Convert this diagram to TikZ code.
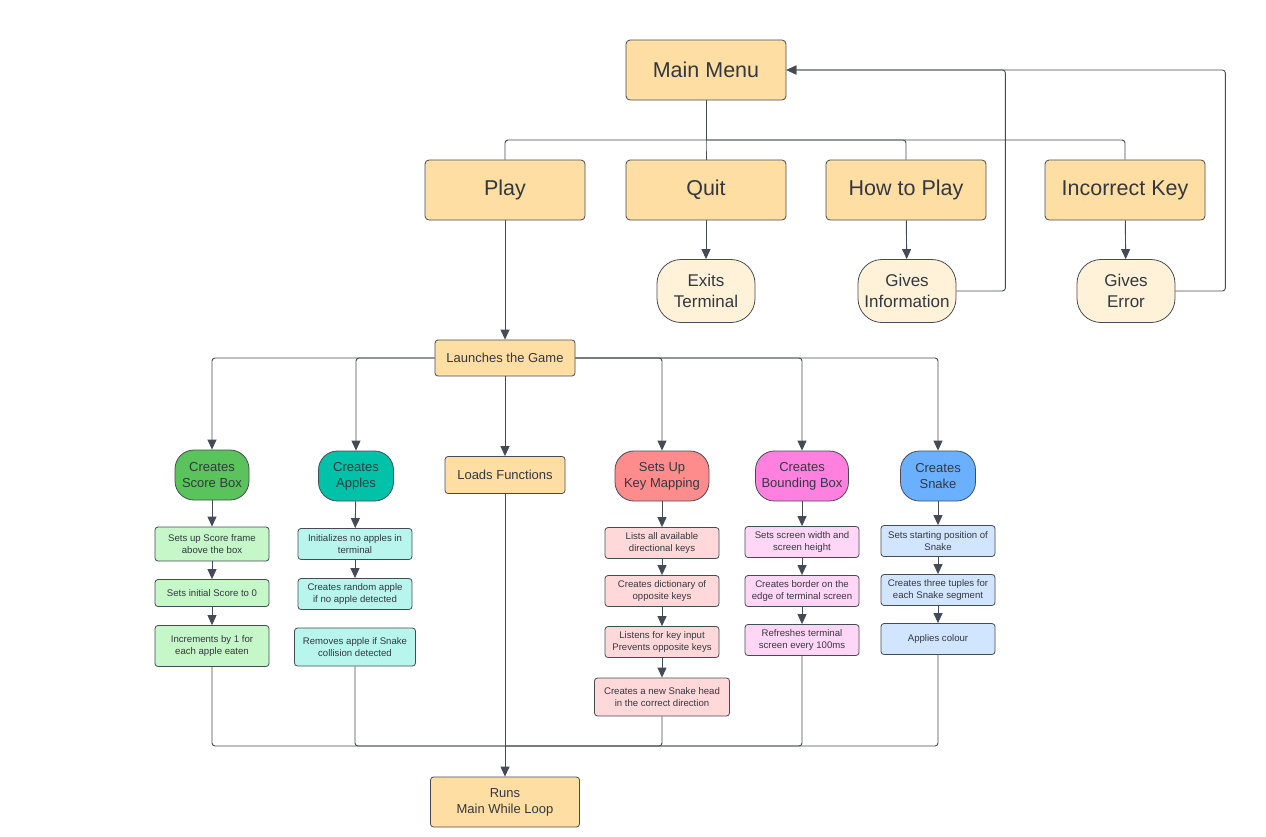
\documentclass[tikz,border=0pt]{standalone}
\usepackage{fontspec}
\setmainfont{Liberation Sans}
\usetikzlibrary{arrows.meta}

\definecolor{edge}{HTML}{454B54}
\definecolor{ink}{HTML}{333840}
\definecolor{orng}{HTML}{FFDEA4}
\definecolor{cream}{HTML}{FFF2D9}
\definecolor{grn}{HTML}{5AC35B}  \definecolor{grnl}{HTML}{C5F7C9}
\definecolor{teal}{HTML}{00C2A8} \definecolor{teall}{HTML}{B8F5ED}
\definecolor{sal}{HTML}{FF8C8C}  \definecolor{sall}{HTML}{FFD9D9}
\definecolor{pnk}{HTML}{FF80DF}  \definecolor{pnkl}{HTML}{FFD6F6}
\definecolor{blu}{HTML}{6BB0FF}  \definecolor{blul}{HTML}{D1E5FF}

\tikzset{
  box/.style={draw=edge, line width=0.8pt, text=ink, align=center, inner sep=1pt},
  menu/.style={box, fill=orng, rounded corners=4pt, minimum width=160, minimum height=60,
    font=\fontsize{21.5}{26}\selectfont},
  result/.style={box, fill=cream, rounded corners=24pt, minimum width=98, minimum height=63,
    font=\fontsize{17}{21}\selectfont},
  head/.style={box, rounded corners=19pt, minimum height=50, font=\fontsize{13}{16}\selectfont},
  task/.style={box, rounded corners=3pt, minimum width=114, minimum height=31,
    font=\fontsize{9.6}{12}\selectfont},
  wire/.style={draw=edge, line width=0.9pt, rounded corners=3pt},
  >={Triangle[length=10pt,width=9pt]}
}

\begin{document}
\begin{tikzpicture}[x=1pt,y=-1pt]
\useasboundingbox (0,0) rectangle (1266,836);

% menu level
\node[menu] (mm) at (706,70) {Main Menu};
\node[menu] (play) at (505,190) {Play};
\node[menu] (quit) at (706,190) {Quit};
\node[menu] (howto) at (906,190) {How to Play};
\node[menu] (wrong) at (1125,190) {Incorrect Key};
\node[result] (exits) at (706,291) {Exits\\Terminal};
\node[result] (info) at (907,291) {Gives\\Information};
\node[result] (err) at (1126,291) {Gives\\Error};

\coordinate (bus) at (706,140);
\draw[wire] (mm.south) -- (bus);
\foreach \n in {play,quit,howto,wrong} \draw[wire] (bus) -| (\n.north);
\foreach \a/\b in {quit/exits,howto/info,wrong/err} \draw[wire,->] (\a) -- (\b);
\draw[wire,->] (info.east) -- ++(49,0) |- (mm.east);
\draw[wire,->] (err.east) -- ++(50,0) |- (mm.east);

% game level
\node[box, fill=orng, rounded corners=3pt, minimum width=140, minimum height=36,
  font=\fontsize{13}{16}\selectfont] (launch) at (505,358) {Launches the Game};
\draw[wire,->] (play) -- (launch);

\node[head, fill=grn, minimum width=74] (score) at (212,475) {Creates\\Score Box};
\node[head, fill=teal, minimum width=75] (apples) at (356,476) {Creates\\Apples};
\node[box, fill=orng, rounded corners=3pt, minimum width=120, minimum height=37,
  font=\fontsize{13}{16}\selectfont] (loads) at (505,475) {Loads Functions};
\node[head, fill=sal, minimum width=94] (keys) at (662,476) {Sets Up\\Key Mapping};
\node[head, fill=pnk, minimum width=93] (bound) at (802,476) {Creates\\Bounding Box};
\node[head, fill=blu, minimum width=75] (snake) at (938,476) {Creates\\Snake};

\foreach \n in {score,apples} \draw[wire,->] (launch.west) -| (\n.north);
\foreach \n in {keys,bound,snake} \draw[wire,->] (launch.east) -| (\n.north);
\draw[wire,->] (launch) -- (loads);

% score box
\node[task, fill=grnl, minimum height=34] (sc1) at (212,544) {Sets up Score frame\\above the box};
\node[task, fill=grnl, minimum height=27] (sc2) at (212,593) {Sets initial Score to 0};
\node[task, fill=grnl, minimum height=41] (sc3) at (212,646) {Increments by 1 for\\each apple eaten};

% apples
\node[task, fill=teall] (ap1) at (355,544) {Initializes no apples in\\terminal};
\node[task, fill=teall] (ap2) at (355,594) {Creates random apple\\if no apple detected};
\node[task, fill=teall, minimum width=121, minimum height=38] (ap3) at (355,647) {Removes apple if Snake\\collision detected};

% key mapping
\node[task, fill=sall] (km1) at (662,543) {Lists all available\\directional keys};
\node[task, fill=sall] (km2) at (662,591) {Creates dictionary of\\opposite keys};
\node[task, fill=sall] (km3) at (662,642) {Listens for key input\\Prevents opposite keys};
\node[task, fill=sall, minimum width=135, minimum height=38] (km4) at (662,697) {Creates a new Snake head\\in the correct direction};

% bounding box
\node[task, fill=pnkl] (bb1) at (802,542) {Sets screen width and\\screen height};
\node[task, fill=pnkl] (bb2) at (802,591) {Creates border on the\\edge of terminal screen};
\node[task, fill=pnkl] (bb3) at (802,640) {Refreshes terminal\\screen every 100ms};

% snake
\node[task, fill=blul] (sn1) at (938,541) {Sets starting position of\\Snake};
\node[task, fill=blul] (sn2) at (938,590) {Creates three tuples for\\each Snake segment};
\node[task, fill=blul] (sn3) at (938,639) {Applies colour};

\foreach \a/\b in {score/sc1,sc1/sc2,sc2/sc3,apples/ap1,ap1/ap2,keys/km1,km1/km2,km2/km3,km3/km4,
  bound/bb1,bb1/bb2,bb2/bb3,snake/sn1,sn1/sn2,sn2/sn3}
  \draw[wire,->] (\a) -- (\b);

% main loop
\node[box, fill=orng, rounded corners=3pt, minimum width=149, minimum height=50,
  font=\fontsize{13}{16}\selectfont] (runs) at (505,802) {Runs\\Main While Loop};
\coordinate (join) at (505,746);
\foreach \n in {sc3,ap3,km4,bb3,sn3} \draw[wire] (\n.south) |- (join);
\draw[wire] (loads) -- (join);
\draw[wire,->] (join) -- (runs);
\end{tikzpicture}
\end{document}
